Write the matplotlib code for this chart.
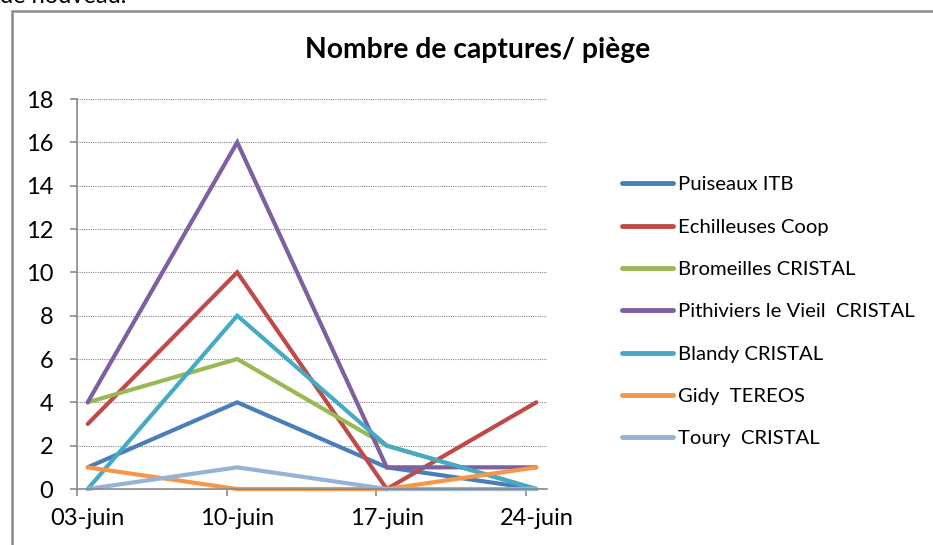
import matplotlib.pyplot as plt
from matplotlib.patches import Rectangle

# day offsets from 03-juin
dates = [0, 7, 14, 21]
date_labels = ["03-juin", "10-juin", "17-juin", "24-juin"]

puiseaux = [1, 4, 1, 0]
echilleuses = [3, 10, 0, 4]
bromeilles = [4, 6, 2, 0]
pithiviers = [4, 16, 1, 1]
blandy = [0, 8, 2, 0]
gidy = [1, 0, 0, 1]
toury = [0, 1, 0, 0]

names = ["Puiseaux ITB", "Echilleuses Coop", "Bromeilles CRISTAL",
         "Pithiviers le Vieil  CRISTAL", "Blandy CRISTAL", "Gidy  TEREOS",
         "Toury  CRISTAL"]
series = [puiseaux, echilleuses, bromeilles, pithiviers, blandy, gidy, toury]
colors = ["#4A7EBB", "#BE4B48", "#98B954", "#7D60A0", "#46AAC5", "#F79646", "#95B3D7"]

plt.rcParams['font.family'] = ['Lato', 'DejaVu Sans']

fig = plt.figure(figsize=(9.33, 5.45), dpi=100)
W, H = 933, 545

# chart border (right and bottom edges fall outside the picture)
fig.patches.append(Rectangle((12 / W, -0.1), 1.2, 1.1 - 11 / H, transform=fig.transFigure,
                             fill=False, edgecolor="#8c8c8c", linewidth=1.8))
fig.text(0.0, 1 - 3 / H, "de nouveau.", fontsize=17, va="baseline", ha="left")

ax = fig.add_axes([77 / W, 1 - 489 / H, (547 - 77) / W, (489 - 99) / H])

# Excel date axis: points (and labels) sit in the middle of each day slot
xs = [d + 0.5 for d in dates]
for vals, name, c in zip(series, names, colors):
    ax.plot(xs, vals, color=c, linewidth=3, label=name, solid_capstyle="round",
            solid_joinstyle="miter", clip_on=False)

ax.set_xlim(0, 22)
ax.set_ylim(0, 18)
ax.set_yticks(range(0, 19, 2))
ax.set_xticks(dates)
ax.set_xticklabels([])
ax.set_xticks(xs, minor=True)
ax.set_xticklabels(date_labels, minor=True)
ax.grid(axis="y", linestyle=(0, (1, 1)), color="#8a8a8a", linewidth=0.8)
ax.set_axisbelow(True)
for s in ["top", "right"]:
    ax.spines[s].set_visible(False)
for s in ["left", "bottom"]:
    ax.spines[s].set_color("#8a8a8a")
    ax.spines[s].set_linewidth(1.2)
ax.tick_params(axis="both", colors="#8a8a8a", labelcolor="black", labelsize=17,
               length=5, width=1.2, direction="out")
ax.tick_params(axis="y", pad=12)
ax.tick_params(axis="x", which="minor", length=0, pad=14, labelsize=17,
               labelcolor="black")

fig.text(478 / W, 1 - 50 / H, "Nombre de captures/ piège", fontsize=20.3,
         fontweight="bold", ha="center", va="center")

leg = ax.legend(loc="upper left", bbox_to_anchor=(604 / W, 1 - 158 / H),
                bbox_transform=fig.transFigure, frameon=False, fontsize=14.6,
                handlelength=2.5, handletextpad=0.25, labelspacing=1.24)
for h in leg.get_lines():
    h.set_linewidth(3.5)

fig.savefig("out.png", dpi=100)
